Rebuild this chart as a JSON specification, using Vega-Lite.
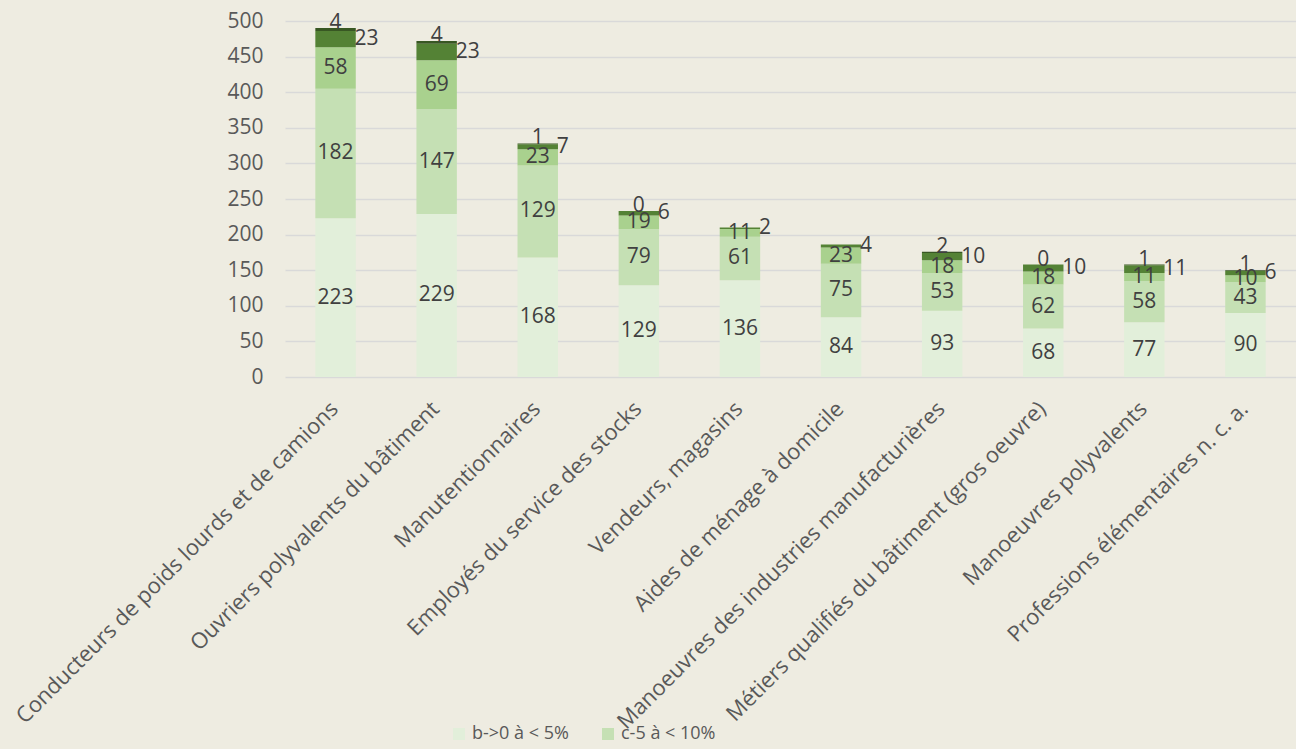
{
  "$schema": "https://vega.github.io/schema/vega-lite/v6.json",
  "width": 1011,
  "height": 356,
  "autosize": {"type": "none"},
  "padding": {"left": 285, "top": 21, "right": 0, "bottom": 372},
  "background": "#eeece1",
  "config": {
    "view": {"stroke": null},
    "font": "Open Sans",
    "axisY": {
      "grid": true,
      "gridColor": "#d9d9d9",
      "gridWidth": 1.5,
      "domain": false,
      "ticks": false,
      "labelOverlap": false,
      "labelFontSize": 21,
      "labelColor": "#595959",
      "labelPadding": 22
    }
  },
  "data": {
    "values": [
      {"job": "Conducteurs de poids lourds et de camions", "cat": "b->0 à < 5%", "v": 223},
      {"job": "Conducteurs de poids lourds et de camions", "cat": "c-5 à < 10%", "v": 182},
      {"job": "Conducteurs de poids lourds et de camions", "cat": "d-10 à < 20%", "v": 58},
      {"job": "Conducteurs de poids lourds et de camions", "cat": "e-20 à < 50%", "v": 23},
      {"job": "Conducteurs de poids lourds et de camions", "cat": "f-50% et plus", "v": 4},
      {"job": "Ouvriers polyvalents du bâtiment", "cat": "b->0 à < 5%", "v": 229},
      {"job": "Ouvriers polyvalents du bâtiment", "cat": "c-5 à < 10%", "v": 147},
      {"job": "Ouvriers polyvalents du bâtiment", "cat": "d-10 à < 20%", "v": 69},
      {"job": "Ouvriers polyvalents du bâtiment", "cat": "e-20 à < 50%", "v": 23},
      {"job": "Ouvriers polyvalents du bâtiment", "cat": "f-50% et plus", "v": 4},
      {"job": "Manutentionnaires", "cat": "b->0 à < 5%", "v": 168},
      {"job": "Manutentionnaires", "cat": "c-5 à < 10%", "v": 129},
      {"job": "Manutentionnaires", "cat": "d-10 à < 20%", "v": 23},
      {"job": "Manutentionnaires", "cat": "e-20 à < 50%", "v": 7},
      {"job": "Manutentionnaires", "cat": "f-50% et plus", "v": 1},
      {"job": "Employés du service des stocks", "cat": "b->0 à < 5%", "v": 129},
      {"job": "Employés du service des stocks", "cat": "c-5 à < 10%", "v": 79},
      {"job": "Employés du service des stocks", "cat": "d-10 à < 20%", "v": 19},
      {"job": "Employés du service des stocks", "cat": "e-20 à < 50%", "v": 6},
      {"job": "Employés du service des stocks", "cat": "f-50% et plus", "v": 0},
      {"job": "Vendeurs, magasins", "cat": "b->0 à < 5%", "v": 136},
      {"job": "Vendeurs, magasins", "cat": "c-5 à < 10%", "v": 61},
      {"job": "Vendeurs, magasins", "cat": "d-10 à < 20%", "v": 11},
      {"job": "Vendeurs, magasins", "cat": "e-20 à < 50%", "v": 2},
      {"job": "Aides de ménage à domicile", "cat": "b->0 à < 5%", "v": 84},
      {"job": "Aides de ménage à domicile", "cat": "c-5 à < 10%", "v": 75},
      {"job": "Aides de ménage à domicile", "cat": "d-10 à < 20%", "v": 23},
      {"job": "Aides de ménage à domicile", "cat": "e-20 à < 50%", "v": 4},
      {"job": "Manoeuvres des industries manufacturières", "cat": "b->0 à < 5%", "v": 93},
      {"job": "Manoeuvres des industries manufacturières", "cat": "c-5 à < 10%", "v": 53},
      {"job": "Manoeuvres des industries manufacturières", "cat": "d-10 à < 20%", "v": 18},
      {"job": "Manoeuvres des industries manufacturières", "cat": "e-20 à < 50%", "v": 10},
      {"job": "Manoeuvres des industries manufacturières", "cat": "f-50% et plus", "v": 2},
      {"job": "Métiers qualifiés du bâtiment (gros oeuvre)", "cat": "b->0 à < 5%", "v": 68},
      {"job": "Métiers qualifiés du bâtiment (gros oeuvre)", "cat": "c-5 à < 10%", "v": 62},
      {"job": "Métiers qualifiés du bâtiment (gros oeuvre)", "cat": "d-10 à < 20%", "v": 18},
      {"job": "Métiers qualifiés du bâtiment (gros oeuvre)", "cat": "e-20 à < 50%", "v": 10},
      {"job": "Métiers qualifiés du bâtiment (gros oeuvre)", "cat": "f-50% et plus", "v": 0},
      {"job": "Manoeuvres polyvalents", "cat": "b->0 à < 5%", "v": 77},
      {"job": "Manoeuvres polyvalents", "cat": "c-5 à < 10%", "v": 58},
      {"job": "Manoeuvres polyvalents", "cat": "d-10 à < 20%", "v": 11},
      {"job": "Manoeuvres polyvalents", "cat": "e-20 à < 50%", "v": 11},
      {"job": "Manoeuvres polyvalents", "cat": "f-50% et plus", "v": 1},
      {"job": "Professions élémentaires n. c. a.", "cat": "b->0 à < 5%", "v": 90},
      {"job": "Professions élémentaires n. c. a.", "cat": "c-5 à < 10%", "v": 43},
      {"job": "Professions élémentaires n. c. a.", "cat": "d-10 à < 20%", "v": 10},
      {"job": "Professions élémentaires n. c. a.", "cat": "e-20 à < 50%", "v": 6},
      {"job": "Professions élémentaires n. c. a.", "cat": "f-50% et plus", "v": 1}
    ]
  },
  "encoding": {
    "x": {
      "field": "job",
      "type": "nominal",
      "sort": null,
      "title": null,
      "scale": {"paddingInner": 0.6, "paddingOuter": 0.3},
      "axis": {
        "labelAngle": -45,
        "labelAlign": "right",
        "labelBaseline": "middle",
        "labelFontSize": 22,
        "labelColor": "#595959",
        "labelLimit": 1000,
        "labelPadding": 28,
        "labelOffset": -1,
        "labelOverlap": false,
        "domain": false,
        "ticks": false,
        "grid": false
      }
    }
  },
  "layer": [
    {
      "mark": {"type": "bar"},
      "encoding": {
        "y": {
          "field": "v",
          "type": "quantitative",
          "stack": "zero",
          "title": null,
          "scale": {"domain": [0, 500], "nice": false},
          "axis": {"values": [0, 50, 100, 150, 200, 250, 300, 350, 400, 450, 500]}
        },
        "color": {
          "field": "cat",
          "type": "nominal",
          "scale": {
            "domain": ["b->0 à < 5%", "c-5 à < 10%", "d-10 à < 20%", "e-20 à < 50%", "f-50% et plus"],
            "range": ["#e2efda", "#c5e0b4", "#a9d18e", "#548235", "#385723"]
          },
          "legend": {
            "values": ["b->0 à < 5%", "c-5 à < 10%"],
            "title": null,
            "orient": "none",
            "legendX": 165,
            "legendY": 704,
            "direction": "horizontal",
            "symbolType": "square",
            "symbolSize": 144,
            "symbolStrokeWidth": 0,
            "labelFontSize": 18,
            "labelColor": "#595959",
            "columnPadding": 30
          }
        },
        "order": {"field": "cat", "sort": "ascending"}
      }
    },
    {
      "mark": {"type": "text", "fontSize": 21, "color": "#404040", "baseline": "middle"},
      "encoding": {
        "y": {"field": "v", "type": "quantitative", "stack": "zero", "bandPosition": 0.5, "title": null, "axis": {"values": [0, 50, 100, 150, 200, 250, 300, 350, 400, 450, 500]}},
        "detail": {"field": "cat"},
        "order": {"field": "cat", "sort": "ascending"},
        "text": {"condition": {"test": "substring(datum.cat,0,1) < 'e'", "field": "v", "type": "quantitative"}, "value": ""}
      }
    },
    {
      "mark": {"type": "text", "fontSize": 21, "color": "#404040", "baseline": "middle", "align": "left", "dx": 19},
      "encoding": {
        "y": {"field": "v", "type": "quantitative", "stack": "zero", "bandPosition": 0.5, "title": null, "axis": {"values": [0, 50, 100, 150, 200, 250, 300, 350, 400, 450, 500]}},
        "detail": {"field": "cat"},
        "order": {"field": "cat", "sort": "ascending"},
        "text": {"condition": {"test": "substring(datum.cat,0,1) == 'e'", "field": "v", "type": "quantitative"}, "value": ""}
      }
    },
    {
      "mark": {"type": "text", "fontSize": 21, "color": "#404040", "baseline": "alphabetic", "dy": 1},
      "encoding": {
        "y": {"field": "v", "type": "quantitative", "stack": "zero", "title": null, "axis": {"values": [0, 50, 100, 150, 200, 250, 300, 350, 400, 450, 500]}},
        "detail": {"field": "cat"},
        "order": {"field": "cat", "sort": "ascending"},
        "text": {"condition": {"test": "substring(datum.cat,0,1) == 'f'", "field": "v", "type": "quantitative"}, "value": ""}
      }
    }
  ]
}
